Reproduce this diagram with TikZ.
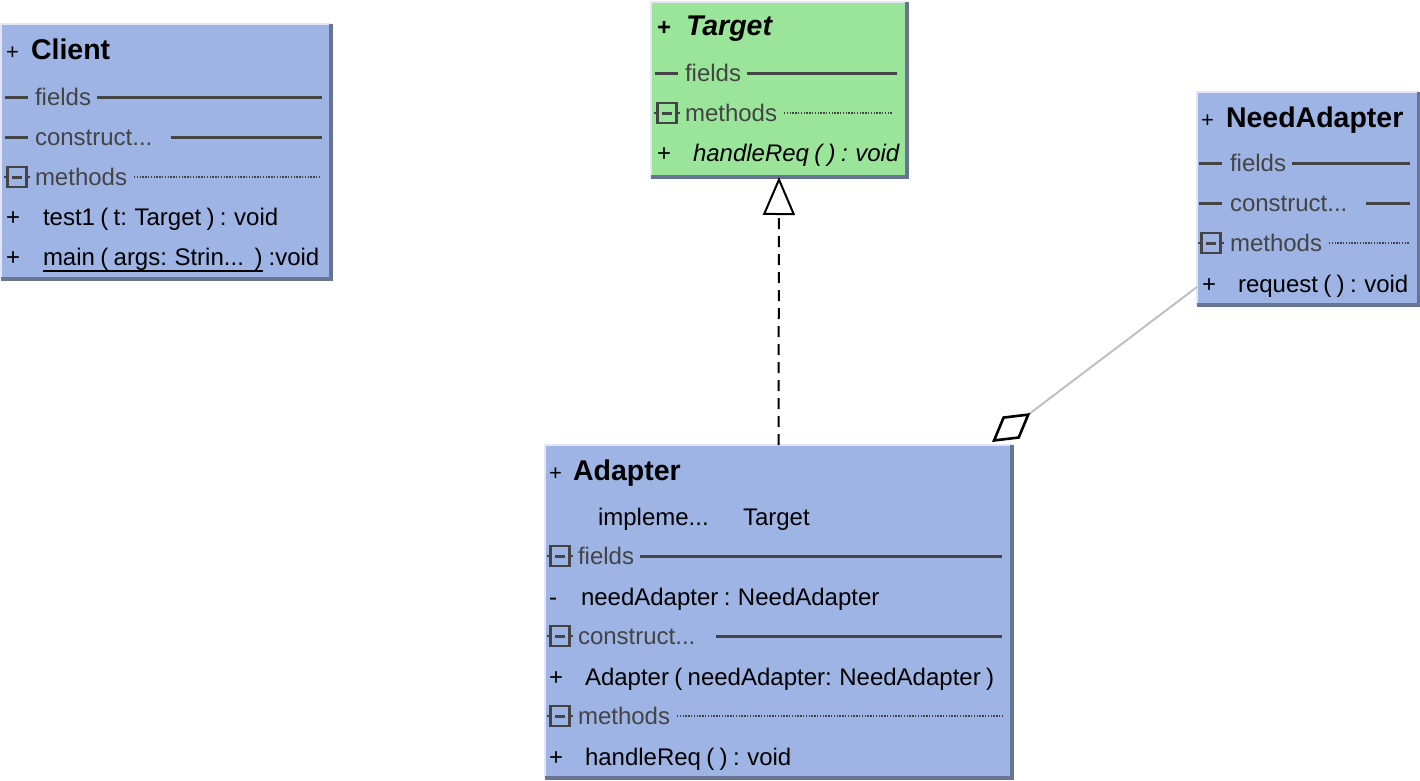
\documentclass[tikz,border=0pt]{standalone}
\usepackage{fontspec}
\setmainfont{Liberation Sans}[WordSpace=0.8]
\usetikzlibrary{arrows.meta,calc}

\definecolor{classblue}{RGB}{157,180,228}
\definecolor{classgreen}{RGB}{155,229,155}
\definecolor{bevlight}{RGB}{228,230,248}
\definecolor{bevdark}{RGB}{104,116,148}
\definecolor{sectgray}{RGB}{68,68,68}
\definecolor{linkgray}{RGB}{192,192,192}

\tikzset{
  classbox/.style={draw=none, inner sep=0pt, outer sep=0pt, anchor=north west},
  edgelight/.style={draw=bevlight, line width=2pt},
  edgedark/.style={draw=bevdark, line width=3.5pt},
  txt/.style={anchor=base west, inner sep=0pt, outer sep=0pt, font=\fontsize{24}{28}\selectfont},
  smallplus/.style={txt, font=\fontsize{22}{26}\selectfont},
  ttl/.style={anchor=base west, inner sep=0pt, outer sep=0pt, font=\fontsize{28.5}{32}\selectfont\bfseries},
  sect/.style={txt, text=sectgray},
  rule/.style={draw=sectgray, line width=3pt},
  dotrule/.style={draw=sectgray, line width=1.4pt, dash pattern=on 1.4pt off 1.4pt},
  minusbox/.style={draw=sectgray, line width=2.4pt, minimum width=19pt, minimum height=20pt, inner sep=0pt},
  realize/.style={draw=black, line width=2pt, dash pattern=on 11pt off 7pt,
    -{Triangle[open, length=38pt, width=32pt, line width=2pt]}},
  aggregate/.style={draw=linkgray, line width=2pt,
    -{Diamond[open, length=48pt, width=28pt, line width=2.6pt, color=black]}}
}

% raised frame around a class box
\newcommand\bevelframe[1]{%
  \draw[edgelight] (#1.south west) -- (#1.north west) -- (#1.north east);
  \draw[edgedark] (#1.north east) -- (#1.south east) -- (#1.south west);
}
% collapse icon of a compartment: name, x, y
\newcommand\minusicon[3]{%
  \node[minusbox] (#1) at (#2,#3) {};
  \draw[sectgray, line width=3pt] ($(#1.center)+(-5,0)$) -- ($(#1.center)+(5,0)$);
  \draw[sectgray, line width=1.5pt] (#1.west) -- ++(-2.5,0) (#1.east) -- ++(2.5,0);
}
% solid rule after a header text: node, gap, y, x end
\newcommand\headline[4]{\draw[rule] ($(#1.east |- 0,#3)+(#2,0)$) -- (#4,#3);}
% dotted rule after a header text: node, gap, y, x end
\newcommand\headdots[4]{\draw[dotrule] ($(#1.east |- 0,#3)+(#2,0)$) -- (#4,#3);}

\begin{document}
\begin{tikzpicture}[x=1pt,y=-1pt]
\useasboundingbox (0,0) rectangle (1420,780);

% ---------- Client ----------
\node[classbox, fill=classblue, minimum width=330pt, minimum height=255pt] (client) at (1,24) {};
\bevelframe{client}
\node[smallplus] (c-p0) at (6,59) {+};
\node[ttl] (c-name) at (31,59) {Client};
\draw[rule] (5,97) -- (28,97);
\node[sect] (c-fields) at (35,105) {fields};
\headline{c-fields}{6}{97}{322}
\draw[rule] (5,137) -- (28,137);
\node[sect] (c-ctor) at (35,145) {construct...};
\headline{c-ctor}{19}{137}{322}
\minusicon{c-mi}{17}{177}
\node[sect] (c-methods) at (35,185) {methods};
\headdots{c-methods}{7}{177}{320}
\node[txt] (c-p1) at (6,225) {+};
\node[txt] (c-test) at (43,225) {test1 ( t: Target ) : void};
\node[txt] (c-p2) at (6,265) {+};
\node[txt] (c-main) at (43,265) {main ( args: Strin...\ \ )};
\node[txt] (c-mainret) at ($(c-main.base east)+(6,0)$) {:void};
\draw[black, line width=2pt] ($(c-main.base west)+(0,6)$) -- ($(c-main.base east)+(0,6)$);

% ---------- Target ----------
\node[classbox, fill=classgreen, minimum width=256pt, minimum height=175pt] (target) at (651,2) {};
\bevelframe{target}
\node[txt, font=\fontsize{24}{28}\selectfont\bfseries] (t-p0) at (657,35) {+};
\node[ttl, font=\fontsize{28.5}{32}\selectfont\bfseries\itshape] (t-name) at (686,35) {Target};
\draw[rule] (655,73) -- (678,73);
\node[sect] (t-fields) at (685,81) {fields};
\headline{t-fields}{6}{73}{897}
\minusicon{t-mi}{667}{113}
\node[sect] (t-methods) at (685,121) {methods};
\headdots{t-methods}{7}{113}{893}
\node[txt] (t-p1) at (657,161) {+};
\node[txt, font=\fontsize{24}{28}\selectfont\itshape] (t-handle) at (693,161) {handleReq ( ) : void};

% ---------- NeedAdapter ----------
\node[classbox, fill=classblue, minimum width=222pt, minimum height=213pt] (need) at (1197,92) {};
\bevelframe{need}
\node[smallplus] (n-p0) at (1201,127) {+};
\node[ttl] (n-name) at (1226,127) {NeedAdapter};
\draw[rule] (1199,163) -- (1222,163);
\node[sect] (n-fields) at (1230,171) {fields};
\headline{n-fields}{6}{163}{1410}
\draw[rule] (1199,203) -- (1222,203);
\node[sect] (n-ctor) at (1230,211) {construct...};
\headline{n-ctor}{19}{203}{1410}
\minusicon{n-mi}{1211}{243}
\node[sect] (n-methods) at (1230,251) {methods};
\headdots{n-methods}{7}{243}{1410}
\node[txt] (n-p1) at (1202,292) {+};
\node[txt] (n-request) at (1238,292) {request ( ) : void};

% ---------- Adapter ----------
\node[classbox, fill=classblue, minimum width=467pt, minimum height=333pt] (adapter) at (545,445) {};
\bevelframe{adapter}
\node[smallplus] (a-p0) at (549,480) {+};
\node[ttl] (a-name) at (573,480) {Adapter};
\node[txt] (a-impl) at (598,525) {impleme...};
\node[txt] (a-iface) at (743,525) {Target};
\minusicon{a-mi1}{560}{556}
\node[sect] (a-fields) at (578,564) {fields};
\headline{a-fields}{6}{556}{1002}
\node[txt] (a-m0) at (549,605) {-};
\node[txt] (a-field) at (581,605) {needAdapter : NeedAdapter};
\minusicon{a-mi2}{560}{636}
\node[sect] (a-ctor) at (578,644) {construct...};
\headline{a-ctor}{21}{636}{1002}
\node[txt] (a-p1) at (549,685) {+};
\node[txt] (a-cons) at (585,685) {Adapter ( needAdapter: NeedAdapter )};
\minusicon{a-mi3}{560}{716}
\node[sect] (a-methods) at (578,724) {methods};
\headdots{a-methods}{7}{716}{1002}
\node[txt] (a-p2) at (549,765) {+};
\node[txt] (a-handle) at (585,765) {handleReq ( ) : void};

% ---------- relations ----------
\draw[realize] (adapter.north) -- (target.south);
\coordinate (aggtip) at (992,442);
\draw[aggregate] (need.west |- 0,287) -- (aggtip);

\end{tikzpicture}
\end{document}
